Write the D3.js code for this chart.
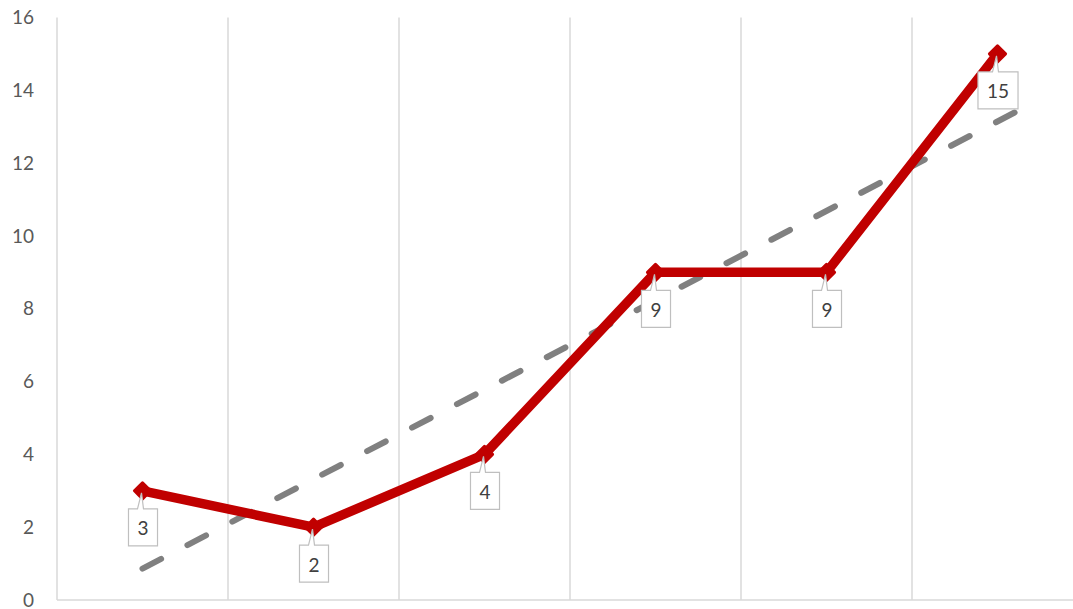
<!DOCTYPE html>
<html>
<head>
<meta charset="utf-8">
<script src="https://cdn.jsdelivr.net/npm/d3@7"></script>
<style>
  body { margin: 0; background: #fff; }
  svg { display: block; font-family: Lato, "Open Sans", sans-serif; }
</style>
</head>
<body>
<div id="chart"></div>
<script>
// data
const categories = ["1", "2", "3", "4", "5", "6"];
const values = [3, 2, 4, 9, 9, 15];
const yTicks = [0, 2, 4, 6, 8, 10, 12, 14, 16];
// linear trendline ends (category position, value)
const trendPos = [1, 6.1];
const trendVal = [0.86, 13.39];

const W = 1073, H = 609;
const plotLeft = 57, plotRight = 1083, plotTop = 17.5, plotBottom = 600;

const svg = d3.select("#chart")
  .append("svg")
    .attr("width", W)
    .attr("height", H);

var x = d3.scaleBand()
  .domain(categories)
  .range([plotLeft, plotRight])
  .padding(0);

// continuous position for the trendline (1 = first category centre)
var xPos = d3.scaleLinear()
  .domain([0.5, categories.length + 0.5])
  .range([plotLeft, plotRight]);

var y = d3.scaleLinear()
  .domain([0, 16])
  .range([plotBottom, plotTop]);

// vertical gridlines at category boundaries
var bounds = categories.map(c => x(c)).concat([x(categories[categories.length - 1]) + x.bandwidth()]);
svg.append("g")
  .selectAll("line")
  .data(bounds)
  .enter().append("line")
    .attr("x1", d => d).attr("x2", d => d)
    .attr("y1", y(16)).attr("y2", plotBottom)
    .attr("stroke", "#d9d9d9")
    .attr("stroke-width", 1.5);

// bottom axis line
svg.append("line")
  .attr("x1", plotLeft).attr("x2", W)
  .attr("y1", plotBottom).attr("y2", plotBottom)
  .attr("stroke", "#d9d9d9")
  .attr("stroke-width", 1.5);

// y axis labels
var yAxis = svg.append("g")
  .attr("transform", "translate(" + (plotLeft - 23) + ",0)")
  .call(d3.axisLeft(y).tickValues(yTicks).tickSize(0).tickPadding(0));
yAxis.select(".domain").remove();
yAxis.selectAll("text")
  .attr("fill", "#595959")
  .style("font-size", "19px")
  .style("font-family", "Lato, 'Open Sans', sans-serif");

// trendline, dash pattern fitted so both ends finish on a dash
var trend = svg.append("path")
  .datum(trendPos.map((p, i) => [p, trendVal[i]]))
  .attr("fill", "none")
  .attr("stroke", "#808080")
  .attr("stroke-width", 6)
  .attr("stroke-linecap", "round")
  .attr("d", d3.line().x(d => xPos(d[0])).y(d => y(d[1])));
var tl = trend.node().getTotalLength();
var dash = 21, n = Math.round((tl - dash) / 52);
trend.attr("stroke-dasharray", dash + " " + ((tl - dash) / n - dash));

var cx = c => x(c) + x.bandwidth() / 2;

// main series
svg.append("path")
  .datum(values)
  .attr("fill", "none")
  .attr("stroke", "#c00000")
  .attr("stroke-width", 9.5)
  .attr("stroke-linejoin", "round")
  .attr("d", d3.line().x((d, i) => cx(categories[i])).y(d => y(d)));

// diamond markers
svg.append("g")
  .selectAll("path")
  .data(values)
  .enter().append("path")
    .attr("transform", (d, i) => "translate(" + cx(categories[i]) + "," + y(d) + ") rotate(45)")
    .attr("d", d3.symbol().type(d3.symbolSquare).size(130))
    .attr("fill", "#c00000")
    .attr("stroke", "#c00000")
    .attr("stroke-width", 3)
    .attr("stroke-linejoin", "round");

// data label callouts
var labels = svg.append("g");
values.forEach(function(v, i) {
  var px = cx(categories[i]), py = y(v);
  var g = labels.append("g");
  var box = g.append("path");
  var t = g.append("text")
    .attr("x", px + 0.5)
    .attr("y", py + 18 + 19)
    .attr("text-anchor", "middle")
    .attr("dominant-baseline", "central")
    .attr("fill", "#404040")
    .style("font-size", "19px")
    .text(v);
  var w = t.node().getComputedTextLength() + 18;
  var bx = px - w / 2 + 0.5, by = py + 18, bh = 37;
  var p = d3.path();
  p.moveTo(bx, by);
  p.lineTo(px - 5, by);
  p.lineTo(px - 1, py + 2);
  p.lineTo(px + 1, by);
  p.lineTo(bx + w, by);
  p.lineTo(bx + w, by + bh);
  p.lineTo(bx, by + bh);
  p.closePath();
  box.attr("d", p.toString())
    .attr("fill", "#fff")
    .attr("stroke", "#bfbfbf")
    .attr("stroke-width", 1.2);
});
</script>
</body>
</html>
